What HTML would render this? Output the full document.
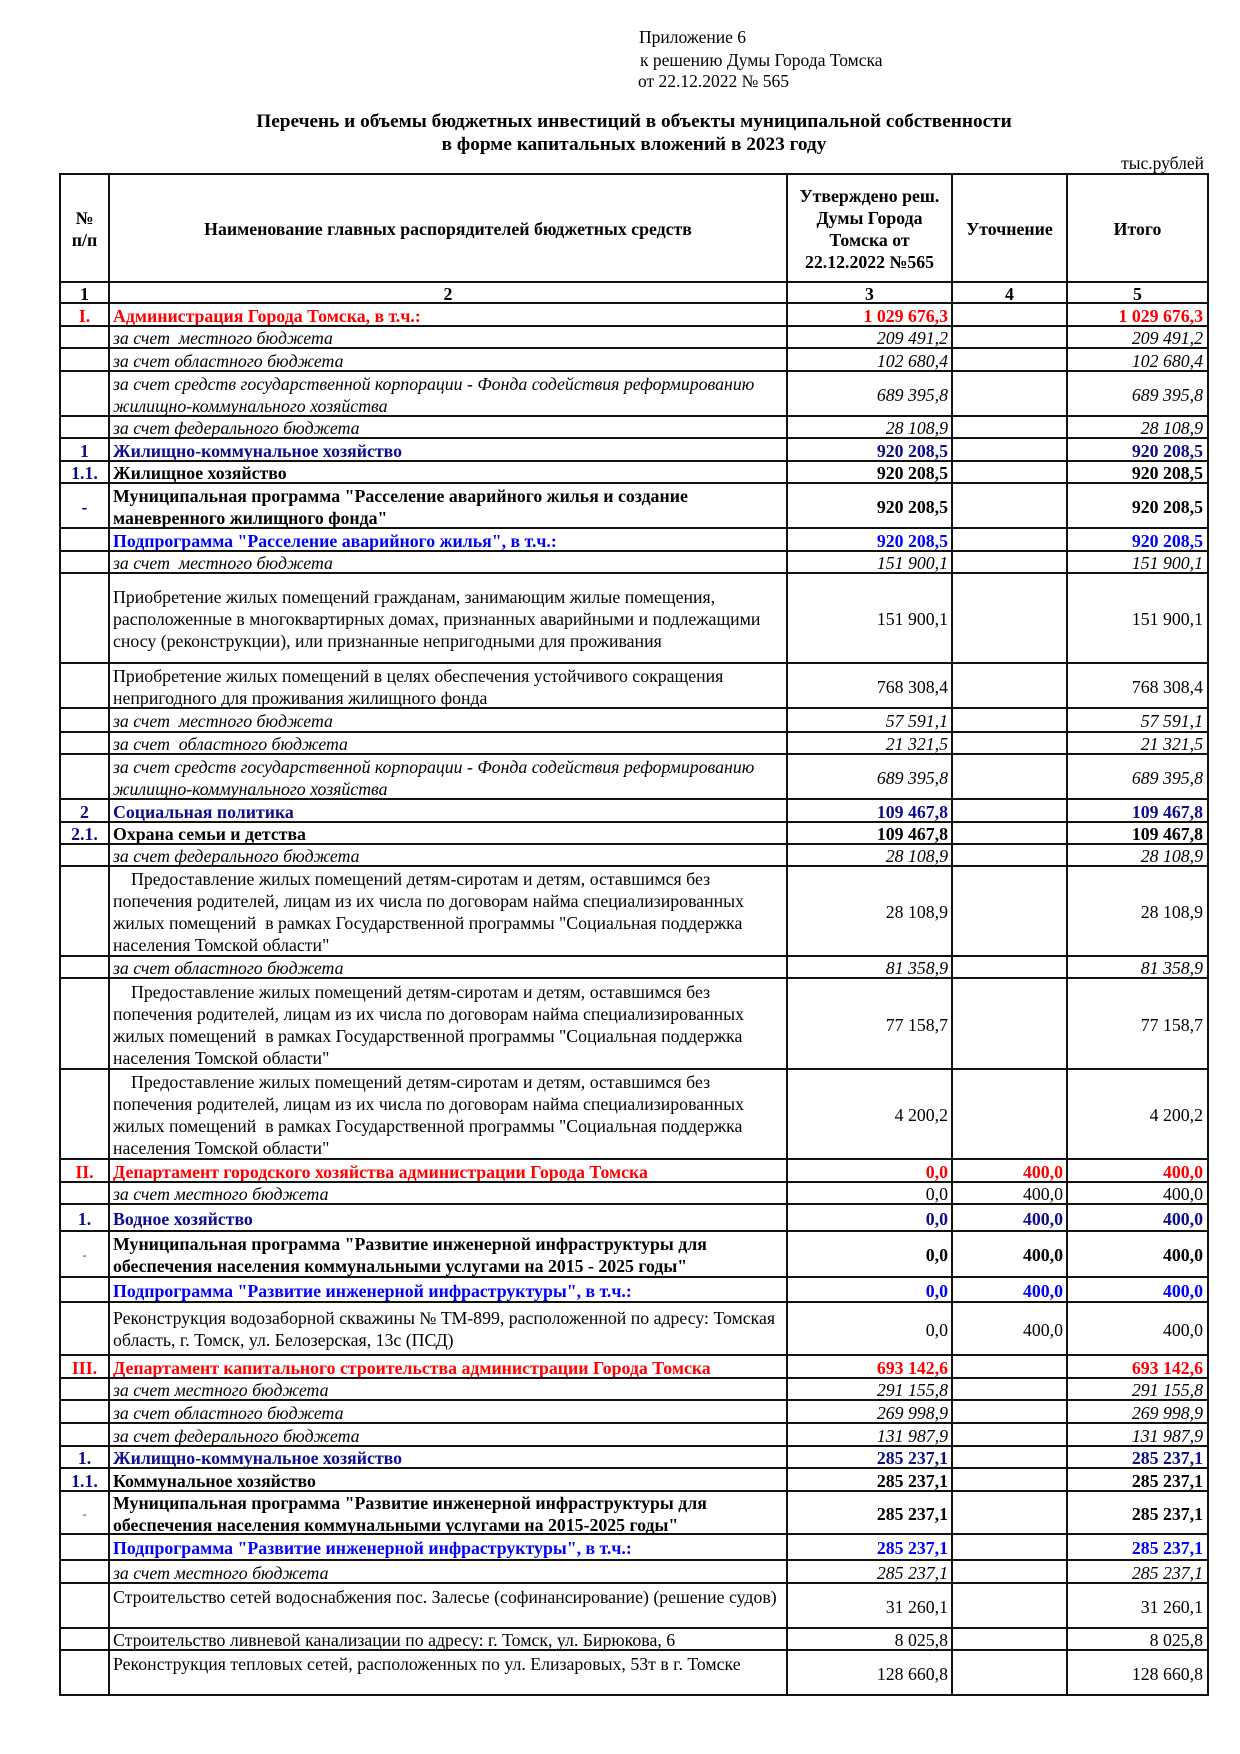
<!DOCTYPE html>
<html lang="ru">
<head>
<meta charset="utf-8">
<style>
html,body{margin:0;padding:0;background:#fff;}
body{width:1240px;height:1754px;position:relative;overflow:hidden;font-family:"Liberation Serif","DejaVu Serif",serif;font-size:17.8px;color:#000;}
.t{position:absolute;white-space:nowrap;line-height:22px;}
.r{position:absolute;left:0;width:1240px;}
.r>div{position:absolute;top:0;bottom:0;display:flex;align-items:center;box-sizing:border-box;white-space:nowrap;line-height:22px;padding-top:2px;}
.a{left:60px;width:49px;justify-content:center;text-align:center;}
.b{left:109px;width:678px;padding-left:4px;}
.c{left:787px;width:165px;justify-content:flex-end;padding-right:4px;}
.d{left:952px;width:115px;justify-content:flex-end;padding-right:4px;}
.e{left:1067px;width:141px;justify-content:flex-end;padding-right:5px;}
.r>div.ctr{justify-content:center;text-align:center;padding-left:0;padding-right:0;}
.r>div.top{align-items:flex-start;padding-top:3px;}
.B{font-weight:bold;}
.I{font-style:italic;}
.red{color:#f00;}
.nv{color:#0c0c8c;}
.bl{color:#0000ff;}
.ind{margin:0;text-indent:18px;}
.dash{font-size:12px;color:#333;}
svg{position:absolute;left:0;top:0;}
</style>
</head>
<body>

<div class="t" style="left:639px;top:26px;font-size:17.5px;">Приложение 6</div>
<div class="t" style="left:640px;top:49px;font-size:17.5px;">к решению Думы Города Томска</div>
<div class="t" style="left:638px;top:70px;font-size:17.5px;">от 22.12.2022 № 565</div>

<div class="t B" style="left:60px;width:1148px;text-align:center;top:111px;font-size:19.3px;">Перечень и объемы бюджетных инвестиций в объекты муниципальной собственности</div>
<div class="t B" style="left:60px;width:1148px;text-align:center;top:134px;font-size:19.3px;">в форме капитальных вложений в 2023 году</div>

<div class="t" style="right:36px;top:152px;font-size:17.5px;">тыс.рублей</div>

<!-- rows -->
<div class="r" style="top:174px;height:108px;">
  <div class="a B ctr">№<br>п/п</div>
  <div class="b B ctr">Наименование главных распорядителей бюджетных средств</div>
  <div class="c B ctr">Утверждено реш.<br>Думы Города<br>Томска от<br>22.12.2022 №565</div>
  <div class="d B ctr">Уточнение</div>
  <div class="e B ctr">Итого</div>
</div>
<div class="r" style="top:282px;height:21px;">
  <div class="a B ctr">1</div><div class="b B ctr">2</div><div class="c B ctr">3</div><div class="d B ctr">4</div><div class="e B ctr">5</div>
</div>
<div class="r" style="top:303px;height:23px;">
  <div class="a B red">I.</div><div class="b B red">Администрация Города Томска, в т.ч.:</div><div class="c B red">1 029 676,3</div><div class="d"></div><div class="e B red">1 029 676,3</div>
</div>
<div class="r" style="top:326px;height:22px;">
  <div class="b I">за счет&nbsp; местного бюджета</div><div class="c I">209 491,2</div><div class="e I">209 491,2</div>
</div>
<div class="r" style="top:348px;height:23px;">
  <div class="b I">за счет областного бюджета</div><div class="c I">102 680,4</div><div class="e I">102 680,4</div>
</div>
<div class="r" style="top:371px;height:45px;">
  <div class="b I">за счет средств государственной корпорации - Фонда содействия реформированию<br>жилищно-коммунального хозяйства</div><div class="c I">689 395,8</div><div class="e I">689 395,8</div>
</div>
<div class="r" style="top:416px;height:22px;">
  <div class="b I">за счет федерального бюджета</div><div class="c I">28 108,9</div><div class="e I">28 108,9</div>
</div>
<div class="r" style="top:438px;height:23px;">
  <div class="a B nv">1</div><div class="b B nv">Жилищно-коммунальное хозяйство</div><div class="c B nv">920 208,5</div><div class="e B nv">920 208,5</div>
</div>
<div class="r" style="top:461px;height:22px;">
  <div class="a B nv">1.1.</div><div class="b B">Жилищное хозяйство</div><div class="c B">920 208,5</div><div class="e B">920 208,5</div>
</div>
<div class="r" style="top:483px;height:45px;">
  <div class="a B nv">-</div><div class="b B">Муниципальная программа "Расселение аварийного жилья и создание<br>маневренного жилищного фонда"</div><div class="c B">920 208,5</div><div class="e B">920 208,5</div>
</div>
<div class="r" style="top:528px;height:23px;">
  <div class="b B bl">Подпрограмма "Расселение аварийного жилья", в т.ч.:</div><div class="c B bl">920 208,5</div><div class="e B bl">920 208,5</div>
</div>
<div class="r" style="top:551px;height:22px;">
  <div class="b I">за счет&nbsp; местного бюджета</div><div class="c I">151 900,1</div><div class="e I">151 900,1</div>
</div>
<div class="r" style="top:573px;height:90px;">
  <div class="b">Приобретение жилых помещений гражданам, занимающим жилые помещения,<br>расположенные в многоквартирных домах, признанных аварийными и подлежащими<br>сносу (реконструкции), или признанные непригодными для проживания</div><div class="c">151 900,1</div><div class="e">151 900,1</div>
</div>
<div class="r" style="top:663px;height:45px;">
  <div class="b">Приобретение жилых помещений в целях обеспечения устойчивого сокращения<br>непригодного для проживания жилищного фонда</div><div class="c">768 308,4</div><div class="e">768 308,4</div>
</div>
<div class="r" style="top:708px;height:24px;">
  <div class="b I">за счет&nbsp; местного бюджета</div><div class="c I">57 591,1</div><div class="e I">57 591,1</div>
</div>
<div class="r" style="top:732px;height:22px;">
  <div class="b I">за счет&nbsp; областного бюджета</div><div class="c I">21 321,5</div><div class="e I">21 321,5</div>
</div>
<div class="r" style="top:754px;height:45px;">
  <div class="b I">за счет средств государственной корпорации - Фонда содействия реформированию<br>жилищно-коммунального хозяйства</div><div class="c I">689 395,8</div><div class="e I">689 395,8</div>
</div>
<div class="r" style="top:799px;height:23px;">
  <div class="a B nv">2</div><div class="b B nv">Социальная политика</div><div class="c B nv">109 467,8</div><div class="e B nv">109 467,8</div>
</div>
<div class="r" style="top:822px;height:22px;">
  <div class="a B nv">2.1.</div><div class="b B">Охрана семьи и детства</div><div class="c B">109 467,8</div><div class="e B">109 467,8</div>
</div>
<div class="r" style="top:844px;height:22px;">
  <div class="b I">за счет федерального бюджета</div><div class="c I">28 108,9</div><div class="e I">28 108,9</div>
</div>
<div class="r" style="top:866px;height:90px;">
  <div class="b"><p class="ind">Предоставление жилых помещений детям-сиротам и детям, оставшимся без<br>попечения родителей, лицам из их числа по договорам найма специализированных<br>жилых помещений&nbsp; в рамках Государственной программы "Социальная поддержка<br>населения Томской области"</p></div><div class="c">28 108,9</div><div class="e">28 108,9</div>
</div>
<div class="r" style="top:956px;height:22px;">
  <div class="b I">за счет областного бюджета</div><div class="c I">81 358,9</div><div class="e I">81 358,9</div>
</div>
<div class="r" style="top:978px;height:91px;">
  <div class="b"><p class="ind">Предоставление жилых помещений детям-сиротам и детям, оставшимся без<br>попечения родителей, лицам из их числа по договорам найма специализированных<br>жилых помещений&nbsp; в рамках Государственной программы "Социальная поддержка<br>населения Томской области"</p></div><div class="c">77 158,7</div><div class="e">77 158,7</div>
</div>
<div class="r" style="top:1069px;height:90px;">
  <div class="b"><p class="ind">Предоставление жилых помещений детям-сиротам и детям, оставшимся без<br>попечения родителей, лицам из их числа по договорам найма специализированных<br>жилых помещений&nbsp; в рамках Государственной программы "Социальная поддержка<br>населения Томской области"</p></div><div class="c">4 200,2</div><div class="e">4 200,2</div>
</div>
<div class="r" style="top:1159px;height:23px;">
  <div class="a B red">II.</div><div class="b B red">Департамент городского хозяйства администрации Города Томска</div><div class="c B red">0,0</div><div class="d B red">400,0</div><div class="e B red">400,0</div>
</div>
<div class="r" style="top:1182px;height:22px;">
  <div class="b I">за счет местного бюджета</div><div class="c">0,0</div><div class="d">400,0</div><div class="e">400,0</div>
</div>
<div class="r" style="top:1204px;height:27px;">
  <div class="a B nv">1.</div><div class="b B nv">Водное хозяйство</div><div class="c B nv">0,0</div><div class="d B nv">400,0</div><div class="e B nv">400,0</div>
</div>
<div class="r" style="top:1231px;height:46px;">
  <div class="a dash">-</div><div class="b B">Муниципальная программа "Развитие инженерной инфраструктуры для<br>обеспечения населения коммунальными услугами на 2015 - 2025 годы"</div><div class="c B">0,0</div><div class="d B">400,0</div><div class="e B">400,0</div>
</div>
<div class="r" style="top:1277px;height:25px;">
  <div class="b B bl">Подпрограмма "Развитие инженерной инфраструктуры", в т.ч.:</div><div class="c B bl">0,0</div><div class="d B bl">400,0</div><div class="e B bl">400,0</div>
</div>
<div class="r" style="top:1302px;height:53px;">
  <div class="b" style="padding-top:0;">Реконструкция водозаборной скважины № ТМ-899, расположенной по адресу: Томская<br>область, г. Томск, ул. Белозерская, 13с (ПСД)</div><div class="c">0,0</div><div class="d">400,0</div><div class="e">400,0</div>
</div>
<div class="r" style="top:1355px;height:23px;">
  <div class="a B red">III.</div><div class="b B red">Департамент капитального строительства администрации Города Томска</div><div class="c B red">693 142,6</div><div class="e B red">693 142,6</div>
</div>
<div class="r" style="top:1378px;height:22px;">
  <div class="b I">за счет местного бюджета</div><div class="c I">291 155,8</div><div class="e I">291 155,8</div>
</div>
<div class="r" style="top:1400px;height:23px;">
  <div class="b I">за счет областного бюджета</div><div class="c I">269 998,9</div><div class="e I">269 998,9</div>
</div>
<div class="r" style="top:1423px;height:23px;">
  <div class="b I">за счет федерального бюджета</div><div class="c I">131 987,9</div><div class="e I">131 987,9</div>
</div>
<div class="r" style="top:1446px;height:22px;">
  <div class="a B nv">1.</div><div class="b B nv">Жилищно-коммунальное хозяйство</div><div class="c B nv">285 237,1</div><div class="e B nv">285 237,1</div>
</div>
<div class="r" style="top:1468px;height:23px;">
  <div class="a B nv">1.1.</div><div class="b B">Коммунальное хозяйство</div><div class="c B">285 237,1</div><div class="e B">285 237,1</div>
</div>
<div class="r" style="top:1491px;height:43px;">
  <div class="a dash">-</div><div class="b B">Муниципальная программа "Развитие инженерной инфраструктуры для<br>обеспечения населения коммунальными услугами на 2015-2025 годы"</div><div class="c B">285 237,1</div><div class="e B">285 237,1</div>
</div>
<div class="r" style="top:1534px;height:26px;">
  <div class="b B bl">Подпрограмма "Развитие инженерной инфраструктуры", в т.ч.:</div><div class="c B bl">285 237,1</div><div class="e B bl">285 237,1</div>
</div>
<div class="r" style="top:1560px;height:23px;">
  <div class="b I">за счет местного бюджета</div><div class="c I">285 237,1</div><div class="e I">285 237,1</div>
</div>
<div class="r" style="top:1583px;height:45px;">
  <div class="b top">Строительство сетей водоснабжения пос. Залесье (софинансирование) (решение судов)</div><div class="c">31 260,1</div><div class="e">31 260,1</div>
</div>
<div class="r" style="top:1628px;height:22px;">
  <div class="b">Строительство ливневой канализации по адресу: г. Томск, ул. Бирюкова, 6</div><div class="c">8 025,8</div><div class="e">8 025,8</div>
</div>
<div class="r" style="top:1650px;height:45px;">
  <div class="b top">Реконструкция тепловых сетей, расположенных по ул. Елизаровых, 53т в г. Томске</div><div class="c">128 660,8</div><div class="e">128 660,8</div>
</div>

<svg width="1240" height="1754" viewBox="0 0 1240 1754">
  <path fill="none" stroke="#111" stroke-width="2" d="
  M59 174H1209 M59 282H1209 M59 303H1209 M59 326H1209 M59 348H1209 M59 371H1209
  M59 416H1209 M59 438H1209 M59 461H1209 M59 483H1209 M59 528H1209 M59 551H1209
  M59 573H1209 M59 663H1209 M59 708H1209 M59 732H1209 M59 754H1209 M59 799H1209
  M59 822H1209 M59 844H1209 M59 866H1209 M59 956H1209 M59 978H1209 M59 1069H1209
  M59 1159H1209 M59 1182H1209 M59 1204H1209 M59 1231H1209 M59 1277H1209 M59 1302H1209
  M59 1355H1209 M59 1378H1209 M59 1400H1209 M59 1423H1209 M59 1446H1209 M59 1468H1209
  M59 1491H1209 M59 1534H1209 M59 1560H1209 M59 1583H1209 M59 1628H1209 M59 1650H1209
  M59 1695H1209
  M60 173V1696 M109 173V1696 M787 173V1696 M952 173V1696 M1067 173V1696 M1208 173V1696"/>
</svg>

</body>
</html>
